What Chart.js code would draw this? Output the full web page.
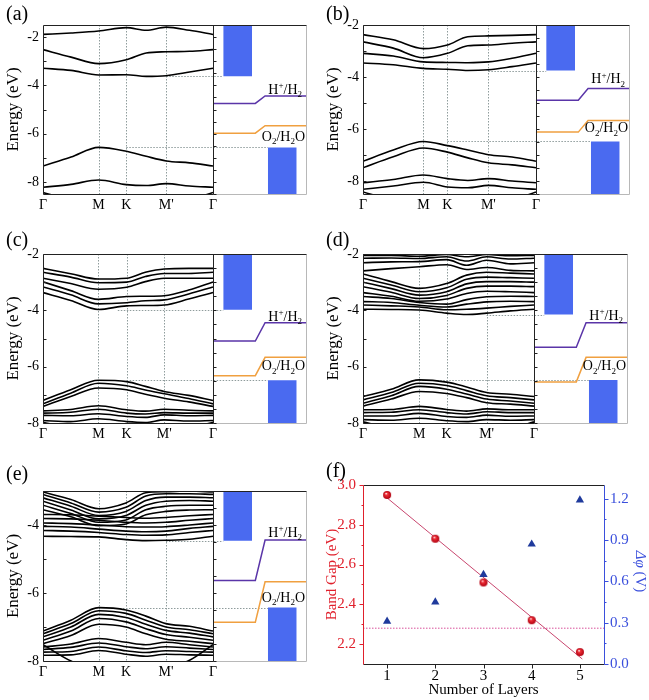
<!DOCTYPE html>
<html><head><meta charset="utf-8">
<script src="https://cdn.jsdelivr.net/npm/chart.js@4.4.1/dist/chart.umd.min.js"></script>
<style>
body{margin:0;background:#fff;width:649px;height:700px;position:relative;overflow:hidden;font-family:"Liberation Serif",serif;}
.pn{position:absolute;}
.lab{position:absolute;font-size:20px;line-height:20px;color:#000;font-family:"Liberation Serif",serif;}
</style></head><body>
<canvas id="ca" class="pn" width="320" height="230" style="left:0;top:0"></canvas>
<canvas id="cb" class="pn" width="329" height="230" style="left:320px;top:0"></canvas>
<canvas id="cc" class="pn" width="320" height="230" style="left:0;top:230px"></canvas>
<canvas id="cd" class="pn" width="329" height="230" style="left:320px;top:230px"></canvas>
<canvas id="ce" class="pn" width="320" height="240" style="left:0;top:460px"></canvas>
<canvas id="cf" class="pn" width="329" height="240" style="left:320px;top:460px"></canvas>
<div class="lab" style="left:6px;top:3px">(a)</div>
<div class="lab" style="left:326px;top:3px">(b)</div>
<div class="lab" style="left:6px;top:229px">(c)</div>
<div class="lab" style="left:326px;top:229px">(d)</div>
<div class="lab" style="left:6px;top:463px">(e)</div>
<div class="lab" style="left:326px;top:460px">(f)</div>
<script>
// ---------- DATA ----------
const kLabels = ['Γ', 'M', 'K', "M'", 'Γ'];
const symIdx = [0, 2, 3, 5, 7];          // which k samples are high-symmetry points

// k samples: Γ, mid, M, K, mid, M', mid, Γ
const kA = [0, 0.165, 0.327, 0.49, 0.607, 0.725, 0.862, 1];
const kB = [0, 0.175, 0.349, 0.488, 0.606, 0.725, 0.862, 1];
const kC = [0, 0.163, 0.326, 0.492, 0.602, 0.713, 0.857, 1];
const kD = [0, 0.165, 0.329, 0.489, 0.606, 0.723, 0.862, 1];
const kE = [0, 0.164, 0.328, 0.488, 0.605, 0.723, 0.862, 1];

const bandsA = [
  [-1.89, -1.83, -1.75, -1.61, -1.72, -1.59, -1.72, -1.89],
  [-2.52, -2.83, -3.10, -2.94, -2.66, -2.61, -2.59, -2.52],
  [-3.29, -3.38, -3.57, -3.56, -3.63, -3.60, -3.45, -3.29],
  [-7.34, -6.97, -6.57, -6.73, -6.94, -7.13, -7.21, -7.34],
  [-8.22, -8.10, -7.92, -8.11, -8.15, -8.07, -8.17, -8.22],
  [-8.44, -8.75, -9.00, -9.00, -9.00, -9.00, -8.75, -8.44]
];
const bandsB = [
  [-2.37, -2.57, -2.91, -2.77, -2.45, -2.42, -2.40, -2.37],
  [-2.65, -2.89, -3.26, -3.09, -2.80, -2.77, -2.70, -2.65],
  [-3.09, -3.19, -3.42, -3.44, -3.45, -3.42, -3.28, -3.09],
  [-3.46, -3.53, -3.67, -3.70, -3.75, -3.72, -3.60, -3.46],
  [-7.24, -6.81, -6.48, -6.64, -6.81, -6.99, -7.08, -7.24],
  [-7.49, -7.07, -6.73, -6.89, -7.11, -7.30, -7.38, -7.49],
  [-8.07, -7.94, -7.77, -7.91, -7.98, -7.91, -8.00, -8.07],
  [-8.32, -8.19, -8.05, -8.23, -8.26, -8.17, -8.26, -8.32],
  [-8.42, -8.75, -9.00, -9.00, -9.00, -9.00, -8.75, -8.42]
];
const bandsC = [
  [-2.51, -2.70, -2.89, -2.86, -2.65, -2.53, -2.51, -2.51],
  [-2.65, -2.82, -3.02, -3.00, -2.80, -2.69, -2.69, -2.65],
  [-2.86, -3.05, -3.25, -3.18, -2.98, -2.86, -2.86, -2.86],
  [-2.99, -3.30, -3.61, -3.51, -3.50, -3.48, -3.28, -2.99],
  [-3.17, -3.45, -3.77, -3.73, -3.66, -3.63, -3.42, -3.17],
  [-3.37, -3.65, -3.97, -3.84, -3.83, -3.81, -3.60, -3.37],
  [-7.20, -6.82, -6.48, -6.53, -6.70, -6.88, -7.02, -7.20],
  [-7.32, -6.94, -6.59, -6.68, -6.83, -6.96, -7.13, -7.32],
  [-7.41, -7.06, -6.76, -6.82, -6.98, -7.12, -7.25, -7.41],
  [-7.57, -7.52, -7.39, -7.53, -7.58, -7.51, -7.55, -7.57],
  [-7.65, -7.62, -7.51, -7.65, -7.68, -7.63, -7.65, -7.65],
  [-7.73, -7.74, -7.67, -7.77, -7.80, -7.71, -7.74, -7.73],
  [-7.91, -7.95, -7.85, -7.95, -7.98, -7.89, -7.93, -7.91],
  [-7.97, -8.20, -8.40, -8.40, -8.40, -8.30, -8.20, -7.97]
];
const bandsD = [
  [-2.05, -2.05, -2.08, -2.02, -2.10, -2.02, -2.06, -2.05],
  [-2.15, -2.14, -2.16, -2.10, -2.25, -2.10, -2.18, -2.15],
  [-2.31, -2.28, -2.27, -2.20, -2.40, -2.22, -2.35, -2.31],
  [-2.60, -2.52, -2.45, -2.38, -2.55, -2.48, -2.58, -2.60],
  [-2.71, -2.98, -3.22, -3.05, -2.75, -2.65, -2.68, -2.71],
  [-2.86, -3.10, -3.34, -3.20, -2.90, -2.82, -2.84, -2.86],
  [-3.00, -3.23, -3.46, -3.34, -3.06, -2.98, -2.98, -3.00],
  [-3.16, -3.36, -3.58, -3.47, -3.22, -3.14, -3.14, -3.16],
  [-3.37, -3.50, -3.68, -3.60, -3.40, -3.32, -3.34, -3.37],
  [-3.51, -3.58, -3.72, -3.78, -3.62, -3.52, -3.50, -3.51],
  [-3.69, -3.72, -3.82, -3.88, -3.78, -3.70, -3.68, -3.69],
  [-3.81, -3.84, -3.88, -3.98, -3.96, -3.92, -3.86, -3.81],
  [-3.96, -3.97, -3.99, -4.10, -4.15, -4.10, -4.02, -3.96],
  [-7.06, -6.80, -6.47, -6.55, -6.72, -6.92, -6.98, -7.06],
  [-7.18, -6.92, -6.59, -6.67, -6.85, -7.03, -7.10, -7.18],
  [-7.30, -7.03, -6.70, -6.80, -6.97, -7.15, -7.22, -7.30],
  [-7.40, -7.15, -6.88, -6.95, -7.10, -7.28, -7.33, -7.40],
  [-7.53, -7.52, -7.41, -7.52, -7.58, -7.50, -7.53, -7.53],
  [-7.63, -7.62, -7.53, -7.63, -7.68, -7.60, -7.63, -7.63],
  [-7.75, -7.75, -7.66, -7.77, -7.80, -7.72, -7.76, -7.75],
  [-7.88, -7.90, -7.83, -7.92, -7.95, -7.88, -7.90, -7.88],
  [-7.96, -8.20, -8.40, -8.40, -8.40, -8.30, -8.20, -7.96]
];
const bandsE = [
  [-3.03, -3.25, -3.52, -3.35, -3.05, -3.02, -3.00, -3.03],
  [-3.10, -3.35, -3.62, -3.48, -3.15, -3.08, -3.08, -3.10],
  [-3.20, -3.45, -3.72, -3.60, -3.28, -3.18, -3.18, -3.20],
  [-3.30, -3.56, -3.82, -3.72, -3.42, -3.30, -3.28, -3.30],
  [-3.42, -3.66, -3.92, -3.85, -3.55, -3.45, -3.42, -3.42],
  [-3.55, -3.76, -4.02, -3.97, -3.70, -3.60, -3.56, -3.55],
  [-3.69, -3.70, -3.74, -3.78, -3.80, -3.78, -3.73, -3.69],
  [-3.81, -3.82, -3.86, -3.92, -3.94, -3.92, -3.86, -3.81],
  [-3.94, -3.96, -4.00, -4.05, -4.06, -4.05, -4.00, -3.94],
  [-4.04, -4.06, -4.12, -4.18, -4.20, -4.18, -4.10, -4.04],
  [-4.16, -4.18, -4.22, -4.28, -4.30, -4.29, -4.22, -4.16],
  [-4.33, -4.34, -4.35, -4.43, -4.46, -4.45, -4.42, -4.33],
  [-7.12, -6.80, -6.43, -6.50, -6.68, -6.90, -6.98, -7.12],
  [-7.20, -6.90, -6.52, -6.60, -6.80, -7.00, -7.08, -7.20],
  [-7.29, -7.00, -6.63, -6.72, -6.92, -7.10, -7.18, -7.29],
  [-7.39, -7.12, -6.75, -6.85, -7.05, -7.22, -7.30, -7.39],
  [-7.49, -7.25, -6.92, -7.00, -7.20, -7.36, -7.42, -7.49],
  [-7.59, -7.50, -7.34, -7.45, -7.52, -7.45, -7.52, -7.59],
  [-7.66, -7.60, -7.47, -7.58, -7.64, -7.58, -7.62, -7.66],
  [-7.74, -7.72, -7.59, -7.70, -7.75, -7.70, -7.72, -7.74],
  [-7.83, -7.82, -7.69, -7.80, -7.86, -7.80, -7.82, -7.83],
  [-7.52, -8.00, -8.30, -8.30, -8.30, -8.20, -7.98, -7.52]
];

// band edges (eV) and potential drop Δφ (V) per layer count
const cbm = [-3.62, -3.75, -3.98, -4.15, -4.46];
const vbm = [-6.57, -6.48, -6.48, -6.47, -6.43];
const redoxH = -4.44;     // H+/H2
const redoxO = -5.67;     // O2/H2O

// panel (f)
const layers  = [1, 2, 3, 4, 5];
const bandGap = [2.95, 2.73, 2.51, 2.32, 2.16];
const dphi    = [0.31, 0.45, 0.65, 0.87, 1.19];
const fitX = [1, 5.05];
const fitY = [2.935, 2.125];
const gapRef = 2.28;
const gapTicks = [2.2, 2.4, 2.6, 2.8, 3.0];
const phiTicks = [0, 0.3, 0.6, 0.9, 1.2];

// ---------- STYLE ----------
const SERIF = '"Liberation Serif", "Times New Roman", serif';
const BLUE = '#4a6af0', PURPLE = '#5a35a8', ORANGE = '#f0a040', GRID = '#8f9c9c';
const RED = '#e0202c', NAVY = '#1f3a9c', AXBLUE = '#3a4fdc';

function ln(ctx, x1, y1, x2, y2) { ctx.beginPath(); ctx.moveTo(x1, y1); ctx.lineTo(x2, y2); ctx.stroke(); }
const px = v => Math.round(v) + 0.5;

function rich(ctx, segs, xRight, base, size) {
  const big = size + 'px ' + SERIF, small = Math.round(size * 0.66) + 'px ' + SERIF;
  let w = 0;
  segs.forEach(s => { ctx.font = s[1] ? small : big; w += ctx.measureText(s[0]).width; });
  let x = xRight - w;
  ctx.textBaseline = 'alphabetic'; ctx.textAlign = 'left'; ctx.fillStyle = '#000';
  segs.forEach(s => {
    ctx.font = s[1] ? small : big;
    const dy = s[1] === 'sup' ? -size * 0.4 : (s[1] === 'sub' ? size * 0.25 : 0);
    ctx.fillText(s[0], x, base + dy);
    x += ctx.measureText(s[0]).width;
  });
}

function bandPanel(id, k, bands, cfg) {
  const W = cfg.xmax - 1;
  const XV = f => 1 + f * W;
  const d = dphi[cfg.i];
  const ds = [];
  ds.push({data: [{x: 1, y: redoxH - d}, {x: XV(0.455), y: redoxH - d}, {x: XV(0.56), y: redoxH}, {x: cfg.xmax, y: redoxH}],
    showLine: true, borderColor: PURPLE, borderWidth: 1.5, pointRadius: 0, tension: 0});
  ds.push({data: [{x: 1, y: redoxO - d}, {x: XV(0.455), y: redoxO - d}, {x: XV(0.56), y: redoxO}, {x: cfg.xmax, y: redoxO}],
    showLine: true, borderColor: ORANGE, borderWidth: 1.5, pointRadius: 0, tension: 0});
  bands.forEach(b => ds.push({data: b.map((e, j) => ({x: k[j], y: e})), showLine: true, borderColor: '#000',
    borderWidth: 1.6, pointRadius: 0, cubicInterpolationMode: 'monotone', clip: 0}));
  ds.push({data: [{x: XV(0.11), y: cbm[cfg.i]}, {x: XV(0.42), y: cbm[cfg.i]}], showLine: true, borderWidth: 0,
    borderColor: 'rgba(0,0,0,0)', backgroundColor: BLUE, fill: 'end', pointRadius: 0});
  ds.push({data: [{x: XV(0.59), y: vbm[cfg.i]}, {x: XV(0.90), y: vbm[cfg.i]}], showLine: true, borderWidth: 0,
    borderColor: 'rgba(0,0,0,0)', backgroundColor: BLUE, fill: 'start', pointRadius: 0});

  const decor = {
    id: 'decor',
    beforeDatasetsDraw(chart) {
      const {ctx, chartArea: a, scales: {x, y}} = chart;
      ctx.save();
      ctx.strokeStyle = GRID; ctx.lineWidth = 1; ctx.setLineDash([1.5, 1.5]);
      [k[2], k[3], k[5]].forEach(v => { const p = px(x.getPixelForValue(v)); ln(ctx, p, a.top, p, a.bottom); });
      const yc = px(y.getPixelForValue(cbm[cfg.i])), yv = px(y.getPixelForValue(vbm[cfg.i]));
      ln(ctx, x.getPixelForValue(cfg.cbmFrom), yc, x.getPixelForValue(XV(0.11)), yc);
      ln(ctx, x.getPixelForValue(cfg.vbmFrom), yv, x.getPixelForValue(XV(0.59)), yv);
      ctx.restore();
    },
    afterDatasetsDraw(chart) {
      const {ctx, chartArea: a, scales: {x, y}} = chart;
      const L = px(a.left), R = px(a.right), T = px(a.top), B = px(a.bottom), D = px(x.getPixelForValue(1));
      ctx.save();
      ctx.strokeStyle = '#b8b8b8'; ctx.lineWidth = 1;
      ln(ctx, D, B, R, B); ln(ctx, R, T, R, B);
      ctx.strokeStyle = '#222';
      ln(ctx, L, T, R, T); ln(ctx, L, T, L, B); ln(ctx, L, B, D, B); ln(ctx, D, T, D, B);
      for (let v = Math.ceil(cfg.ymin); v <= Math.floor(cfg.ymax); v++) {
        const p = px(y.getPixelForValue(v)); ln(ctx, L, p, L + 3, p);
      }
      for (let v = Math.ceil(cfg.ymin * 2) / 2; v <= cfg.ymax; v += 0.5) {
        const p = px(y.getPixelForValue(v)); ln(ctx, D, p, D + 3, p);
      }
      const hy = y.getPixelForValue(redoxH), oy = y.getPixelForValue(redoxO);
      rich(ctx, [['H'], ['+', 'sup'], ['/H'], ['2', 'sub']], a.right - 4, hy + cfg.hOff, 14);
      rich(ctx, [['O'], ['2', 'sub'], ['/H'], ['2', 'sub'], ['O']], a.right - 1, oy + cfg.oOff, 14);
      ctx.restore();
    }
  };

  new Chart(document.getElementById(id), {
    type: 'scatter',
    data: {datasets: ds},
    options: {
      responsive: false, animation: false, events: [],
      layout: {padding: {top: cfg.top, right: cfg.right, left: 0, bottom: 0}},
      plugins: {legend: {display: false}, tooltip: {enabled: false}},
      scales: {
        x: {type: 'linear', min: 0, max: cfg.xmax, grid: {display: false, drawTicks: false}, border: {display: false},
          afterBuildTicks: s => { s.ticks = symIdx.map(j => ({value: k[j]})); },
          ticks: {autoSkip: false, maxRotation: 0, padding: 3, color: '#000', font: {family: SERIF, size: 14},
            callback: (v, j) => kLabels[j]},
          afterFit: s => { s.height = cfg.xh; }},
        y: {min: cfg.ymin, max: cfg.ymax, grid: {display: false, drawTicks: false}, border: {display: false},
          afterBuildTicks: s => { s.ticks = cfg.yt.map(v => ({value: v})); },
          ticks: {padding: 4, color: '#000', font: {family: SERIF, size: 14}, callback: v => String(v)},
          title: {display: true, text: 'Energy (eV)', color: '#000', font: {family: SERIF, size: 17}, padding: {top: 3, bottom: 0}},
          afterFit: s => { s.width = 43; }}
      }
    },
    plugins: [decor]
  });
}

bandPanel('ca', kA, bandsA, {i: 0, ymin: -8.5, ymax: -1.5, yt: [-8, -6, -4, -2], xmax: 1.547, top: 25, right: 14, xh: 36,
  cbmFrom: 0.725, vbmFrom: 0.49, hOff: -2, oOff: 15});
bandPanel('cb', kB, bandsB, {i: 1, ymin: -8.5, ymax: -2, yt: [-8, -6, -4, -2], xmax: 1.538, top: 25, right: 20, xh: 36,
  cbmFrom: 0.725, vbmFrom: 0.488, hOff: -5, oOff: 12});
bandPanel('cc', kC, bandsC, {i: 2, ymin: -8, ymax: -2, yt: [-8, -6, -4, -2], xmax: 1.547, top: 24, right: 14, xh: 37,
  cbmFrom: 0.44, vbmFrom: 0.492, hOff: -2, oOff: 13});
bandPanel('cd', kD, bandsD, {i: 3, ymin: -8, ymax: -2, yt: [-8, -6, -4, -2], xmax: 1.544, top: 24, right: 22, xh: 37,
  cbmFrom: 0.723, vbmFrom: 0.329, hOff: -3, oOff: 13});
bandPanel('ce', kE, bandsE, {i: 4, ymin: -8, ymax: -3, yt: [-8, -6, -4], xmax: 1.547, top: 31, right: 14, xh: 39,
  cbmFrom: 0.723, vbmFrom: 0.40, hOff: -3, oOff: 20});

// ---------- panel (f) ----------
function sphere(r) {
  const c = document.createElement('canvas'); const s = 2 * r + 2; c.width = s; c.height = s;
  const g = c.getContext('2d');
  const grd = g.createRadialGradient(r * 0.75 + 1, r * 0.6 + 1, 0.2, r + 1, r + 1, r);
  grd.addColorStop(0, '#ffffff'); grd.addColorStop(0.3, '#f03038'); grd.addColorStop(1, '#b00010');
  g.fillStyle = grd; g.beginPath(); g.arc(r + 1, r + 1, r, 0, Math.PI * 2); g.fill();
  return c;
}
const decorF = {
  id: 'decorF',
  afterDraw(chart) {
    const {ctx, chartArea: a, scales: {x, y, y1}} = chart;
    const L = px(a.left), R = px(a.right), T = px(a.top), B = px(a.bottom);
    ctx.save(); ctx.lineWidth = 1;
    ctx.strokeStyle = '#222'; ln(ctx, L, T, R, T); ln(ctx, L, B, R, B);
    layers.forEach(v => { const p = px(x.getPixelForValue(v)); ln(ctx, p, B, p, B + 4); });
    ctx.strokeStyle = RED; ln(ctx, L, T, L, B);
    gapTicks.forEach(v => { const p = px(y.getPixelForValue(v)); ln(ctx, L - 4, p, L, p); });
    [2.3, 2.5, 2.7, 2.9].forEach(v => { const p = px(y.getPixelForValue(v)); ln(ctx, L - 2, p, L, p); });
    ctx.strokeStyle = AXBLUE; ln(ctx, R, T, R, B);
    phiTicks.forEach(v => { const p = px(y1.getPixelForValue(v)); ln(ctx, R, p, R + 4, p); });
    [0.15, 0.45, 0.75, 1.05].forEach(v => { const p = px(y1.getPixelForValue(v)); ln(ctx, R, p, R + 2, p); });
    ctx.translate(chart.width - 9, (a.top + a.bottom) / 2 - 3);
    ctx.rotate(Math.PI / 2);
    ctx.fillStyle = AXBLUE; ctx.textBaseline = 'middle';
    const f1 = 'italic 15px ' + SERIF, f2 = '15px ' + SERIF;
    ctx.font = f1; const w1 = ctx.measureText('Δφ').width;
    ctx.font = f2; const w2 = ctx.measureText(' (V)').width;
    ctx.font = f1; ctx.fillText('Δφ', -(w1 + w2) / 2, 0);
    ctx.font = f2; ctx.fillText(' (V)', -(w1 + w2) / 2 + w1, 0);
    ctx.restore();
  }
};
new Chart(document.getElementById('cf'), {
  type: 'scatter',
  data: {datasets: [
    {data: layers.map((v, i) => ({x: v, y: dphi[i]})), yAxisID: 'y1', pointStyle: 'triangle', pointRadius: 4.8,
      backgroundColor: NAVY, borderColor: NAVY, borderWidth: 0},
    {data: layers.map((v, i) => ({x: v, y: bandGap[i]})), yAxisID: 'y', pointStyle: sphere(4), pointRadius: 4},
    {data: fitX.map((v, i) => ({x: v, y: fitY[i]})), yAxisID: 'y', showLine: true, borderColor: '#c8466e',
      borderWidth: 1, pointRadius: 0},
    {data: [{x: 0.5, y: gapRef}, {x: 5.5, y: gapRef}], yAxisID: 'y', showLine: true, borderColor: '#d8509a',
      borderWidth: 1, borderDash: [1.5, 1.5], pointRadius: 0}
  ]},
  options: {
    responsive: false, animation: false, events: [],
    layout: {padding: {top: 25, right: 0, left: 0, bottom: 0}},
    plugins: {legend: {display: false}, tooltip: {enabled: false}},
    scales: {
      x: {type: 'linear', min: 0.5, max: 5.5, grid: {display: false, drawTicks: false}, border: {display: false},
        afterBuildTicks: s => { s.ticks = layers.map(v => ({value: v})); },
        ticks: {padding: 3, color: '#000', font: {family: SERIF, size: 15}},
        title: {display: true, text: 'Number of Layers', color: '#000', font: {family: SERIF, size: 15}, padding: {top: 0, bottom: 1}},
        afterFit: s => { s.height = 36; }},
      y: {position: 'left', min: 2.1, max: 3.0, grid: {display: false, drawTicks: false}, border: {display: false},
        afterBuildTicks: s => { s.ticks = gapTicks.map(v => ({value: v})); },
        ticks: {padding: 7, color: RED, font: {family: SERIF, size: 15}, callback: v => v.toFixed(1)},
        title: {display: true, text: 'Band Gap (eV)', color: RED, font: {family: SERIF, size: 15}, padding: {top: 3, bottom: 0}},
        afterFit: s => { s.width = 43; }},
      y1: {position: 'right', min: 0, max: 1.3, grid: {display: false, drawTicks: false}, border: {display: false},
        afterBuildTicks: s => { s.ticks = phiTicks.map(v => ({value: v})); },
        ticks: {padding: 6, color: AXBLUE, font: {family: SERIF, size: 15}, callback: v => v.toFixed(1)},
        afterFit: s => { s.width = 45; }}
    }
  },
  plugins: [decorF]
});
</script>
</body></html>
